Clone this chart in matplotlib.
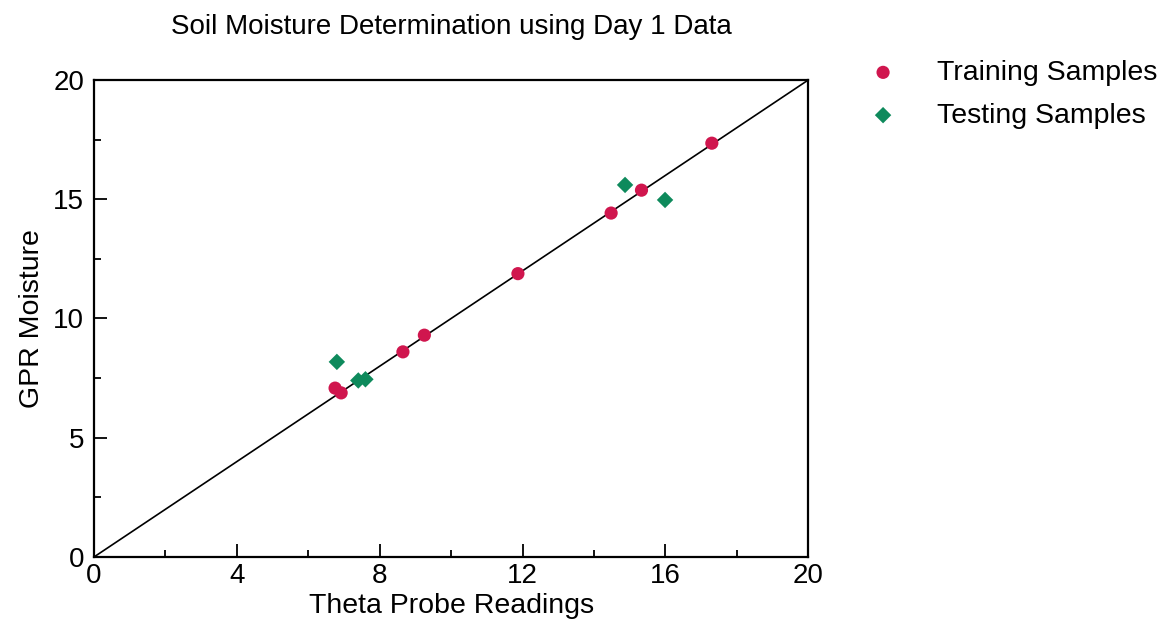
import matplotlib
matplotlib.use("Agg")
from matplotlib import pyplot as plt
from matplotlib.ticker import MultipleLocator

plt.rcParams['font.family'] = ['Liberation Sans', 'DejaVu Sans']

# Training samples (theta probe, GPR);
train_x = [6.75, 6.92, 8.65, 9.25, 11.87, 14.48, 15.33, 17.3]
train_y = [7.08, 6.88, 8.6, 9.3, 11.88, 14.42, 15.38, 17.35]
# Testing samples;
test_x = [6.8, 7.4, 7.6, 14.87, 15.99]
test_y = [8.18, 7.4, 7.45, 15.6, 14.97]

fig = plt.figure(figsize=(11.68, 6.23), dpi=100)
ax = fig.add_axes([0.0805, 0.106, 0.6115, 0.7656])

ax.plot([0, 20], [0, 20], color='black', lw=1.2, zorder=1)
ax.scatter(train_x, train_y, s=90, marker='o', color='#d0164e', edgecolors='none',
           label='Training Samples', zorder=3)
ax.scatter(test_x, test_y, s=70, marker='D', color='#0e8a5c', edgecolors='none',
           label='Testing Samples', zorder=3)

ax.set_xlim(0, 20)
ax.set_ylim(0, 20)
ax.xaxis.set_major_locator(MultipleLocator(4))
ax.xaxis.set_minor_locator(MultipleLocator(2))
ax.yaxis.set_major_locator(MultipleLocator(5))
ax.yaxis.set_minor_locator(MultipleLocator(2.5))
ax.tick_params(which='both', direction='in', labelsize=20, width=1.3)
ax.tick_params(which='major', length=9.5)
ax.tick_params(which='minor', length=5)
ax.tick_params(axis='x', pad=4)
ax.tick_params(axis='y', pad=7)
for sp in ax.spines.values():
    sp.set_linewidth(1.6)

ax.set_xlabel('Theta Probe Readings', fontsize=20.5, labelpad=3)
ax.set_ylabel('GPR Moisture', fontsize=20.5, labelpad=6)
ax.set_title('Soil Moisture Determination using Day 1 Data', fontsize=20, pad=33)

ax.legend(loc='upper left', bbox_to_anchor=(1.029, 1.096), frameon=False,
          fontsize=20.5, handletextpad=0.9, labelspacing=0.59)

fig.savefig('out.png', dpi=100)
